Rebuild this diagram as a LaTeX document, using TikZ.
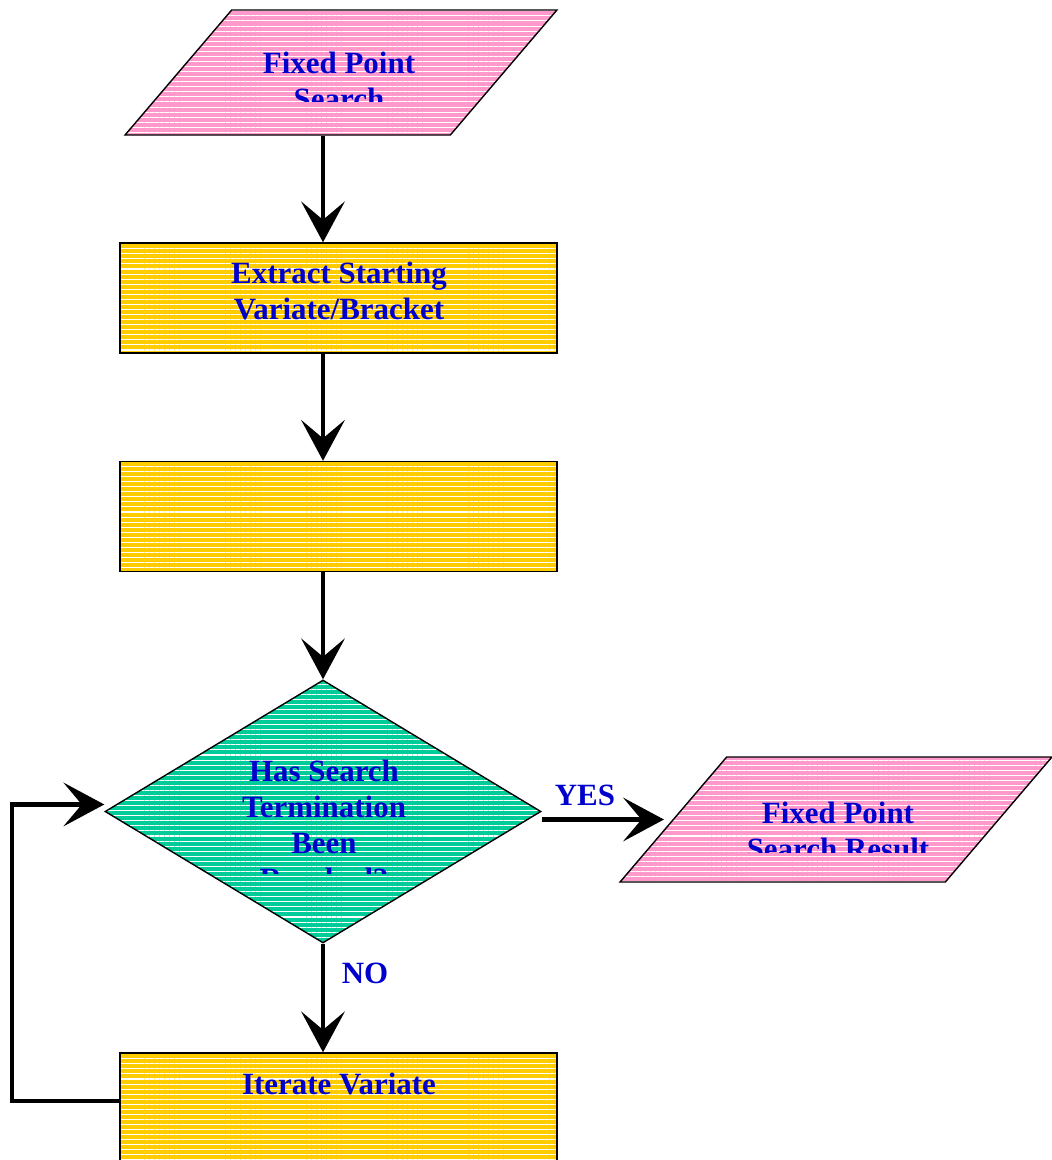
\documentclass[tikz,border=0pt]{standalone}
\usepackage{fontspec}
\setmainfont{Liberation Serif}
\usetikzlibrary{shapes.geometric, arrows.meta, patterns.meta}

\definecolor{pinkfill}{HTML}{FF99CC}
\definecolor{goldfill}{HTML}{FFCC00}
\definecolor{greenfill}{HTML}{00CC99}
\definecolor{textblue}{HTML}{0000CC}

\tikzset{
    hatch/.style={draw=black, line width=1pt, pattern={Lines[angle=0, distance=3.6pt, line width=0.75pt]}, pattern color=white},
    % the angles are taken before stretching, so they are steeper than drawn
    iobox/.style={hatch, preaction={fill=pinkfill}, trapezium, trapezium left angle=64, trapezium right angle=116,
        trapezium stretches=true, minimum width=432*0.025cm, minimum height=125*0.025cm, inner sep=2pt},
    procbox/.style={hatch, preaction={fill=goldfill}, rectangle, minimum width=437*0.025cm, minimum height=110*0.025cm, inner sep=2pt},
    testbox/.style={hatch, preaction={fill=greenfill}, diamond, minimum width=436*0.025cm, minimum height=263*0.025cm, inner sep=2pt},
    lbl/.style={font=\fontsize{22}{25.5}\selectfont\bfseries, text=textblue, align=center, inner sep=0pt},
    flow/.style={line width=3.2pt, -{Stealth[length=29pt, width=31pt, inset=13pt]}},
}

\begin{document}
\begin{tikzpicture}[x=0.025cm, y=-0.025cm]
    \useasboundingbox (0, 0) rectangle (1052, 1160);

    % shapes
    \node[iobox] (start) at (341, 72.5) {};
    \node[procbox] (extract) at (338.5, 298) {};
    \node[procbox] (blank) at (338.5, 516.5) {};
    \node[testbox] (check) at (323, 811.5) {};
    \node[iobox] (result) at (836, 819.5) {};
    \node[procbox] (iterate) at (338.5, 1108) {};

    % texts, cut off at the bottom as in the original
    \begin{scope}
        \clip (100, 0) rectangle (600, 101);
        \node[lbl, anchor=north] (startlbl) at (339, 52) {Fixed Point\\Search};
    \end{scope}
    \node[lbl, anchor=north] (extractlbl) at (339, 262) {Extract Starting\\Variate/Bracket};
    \begin{scope}
        \clip (100, 700) rectangle (560, 873);
        \node[lbl, anchor=north] (checklbl) at (324, 760) {Has Search\\Termination\\Been\\Reached?};
    \end{scope}
    \begin{scope}
        \clip (620, 760) rectangle (1052, 852);
        \node[lbl, anchor=north] (resultlbl) at (838, 802) {Fixed Point\\Search Result};
    \end{scope}
    \node[lbl, anchor=north] (iteratelbl) at (339, 1073) {Iterate Variate};
    \node[lbl] (yeslbl) at (585, 795) {YES};
    \node[lbl] (nolbl) at (365, 973) {NO};

    % connectors
    \coordinate (spine) at (323, 0);
    \coordinate (loopleft) at (12, 950);
    \draw[flow] (spine |- start.south) -- (spine |- extract.north);
    \draw[flow] (spine |- extract.south) -- (spine |- blank.north);
    \draw[flow] (spine |- blank.south) -- (check.north);
    \draw[flow] (check.south) -- (spine |- iterate.north);
    \draw[flow, shorten >=6pt] (check.east |- result.west) -- (result.west);
    \draw[flow] ([yshift=5pt]iterate.west) -| (loopleft) |- ([yshift=5pt]check.west);
\end{tikzpicture}
\end{document}
